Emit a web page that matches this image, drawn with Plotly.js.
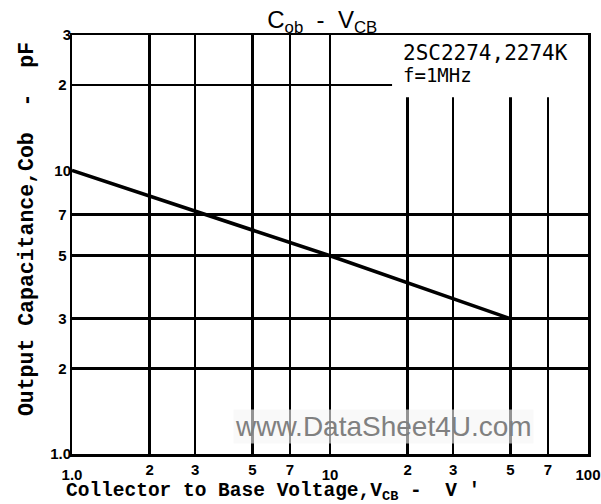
<!DOCTYPE html>
<html>
<head>
<meta charset="utf-8">
<script src="https://cdn.plot.ly/plotly-3.0.1.min.js"></script>
<style>html,body{margin:0;padding:0;background:#fff;}#chart{width:601px;height:504px;}</style>
</head>
<body>
<div id="chart"></div>
<script>
// Data (log-log)
const vcb = [1, 10, 50];          // Collector to base voltage, V
const cob = [10, 5.0, 3.0];       // Output capacitance, pF

// Axis ticks / labels
const xGridVals = [2, 3, 5, 7, 10, 20, 30, 50, 70];
const xGridText = ["2", "3", "5", "7", "", "2", "3", "5", "7"];
const xDecadeVals = [1, 10, 100];
const xDecadeText = ["1.0", "10", "100"];
const yGridVals = [2, 3, 5, 7, 20];
const yGridText = ["2", "3", "5", "7", "2"];
const yDecadeVals = [1, 10, 30];
const yDecadeText = ["1.0", "10", "3"];

const labelFont = {family: "Liberation Sans, Arial, sans-serif", size: 15, color: "#000", weight: 700};
const monoFont = {family: "Liberation Mono, Courier New, monospace", size: 19.5, color: "#000", weight: 700};

// the curve, on the gridded axes
const trace = {
  x: vcb, y: cob, type: "scatter", mode: "lines",
  line: {color: "#000", width: 3.6},
  xaxis: "x", yaxis: "y", hoverinfo: "skip", showlegend: false
};
// same data on the overlay axes that carry the decade labels (not drawn)
const traceDecadeAxes = {
  x: vcb, y: cob, type: "scatter", mode: "lines",
  line: {color: "rgba(0,0,0,0)", width: 0},
  xaxis: "x2", yaxis: "y2", hoverinfo: "skip", showlegend: false
};

const yRange = [0, Math.log10(30)];
const layout = {
  width: 601, height: 504,
  margin: {l: 72, r: 13, t: 35, b: 50},
  paper_bgcolor: "#fff", plot_bgcolor: "#fff",
  showlegend: false,
  title: {
    text: "C<sub>ob</sub>  -  V<sub>CB</sub>",
    font: {family: "Liberation Sans, Arial, sans-serif", size: 24, color: "#000"},
    x: 0.485, xanchor: "center", xref: "paper",
    y: 0.962, yanchor: "middle", yref: "container"
  },
  xaxis: {
    type: "log", range: [0, 2],
    tickmode: "array", tickvals: xGridVals, ticktext: xGridText,
    tickfont: labelFont, ticks: "",
    showgrid: true, gridcolor: "#000", gridwidth: 2.5,
    showline: true, linecolor: "#000", linewidth: 2.5, mirror: true,
    zeroline: false, fixedrange: true
  },
  xaxis2: {
    type: "log", range: [0, 2], overlaying: "x", anchor: "y2", side: "bottom",
    tickmode: "array", tickvals: xDecadeVals, ticktext: xDecadeText,
    tickfont: labelFont, ticks: "outside", ticklen: 7, tickcolor: "rgba(0,0,0,0)",
    ticklabeloverflow: "allow",
    showgrid: false, showline: false, zeroline: false, fixedrange: true
  },
  yaxis: {
    type: "log", range: yRange,
    tickmode: "array", tickvals: yGridVals, ticktext: yGridText,
    tickfont: labelFont, ticks: "",
    showgrid: true, gridcolor: "#000", gridwidth: 2.5,
    showline: true, linecolor: "#000", linewidth: 2.5, mirror: true,
    zeroline: false, fixedrange: true
  },
  yaxis2: {
    type: "log", range: yRange, overlaying: "y", anchor: "x2", side: "left",
    tickmode: "array", tickvals: yDecadeVals, ticktext: yDecadeText,
    tickfont: labelFont, ticks: "", ticklabeloverflow: "allow",
    showgrid: false, showline: false, zeroline: false, fixedrange: true
  },
  // white patch hiding the grid behind the part-number box (top right)
  shapes: [{
    type: "rect", layer: "between",
    xref: "x", yref: "y",
    x0: 17.4, x1: 100, y0: 18.1, y1: 30,
    fillcolor: "#fff", line: {width: 0}
  }],
  annotations: [
    {text: "Collector to Base Voltage,V<sub>CB</sub> -  V '", xref: "paper", yref: "paper",
     x: 0.39, y: -0.091, xanchor: "center", yanchor: "middle", showarrow: false, font: monoFont},
    {text: "Output Capacitance,Cob  -  pF", xref: "paper", yref: "paper", textangle: -90,
     x: -0.087, y: 0.537, xanchor: "center", yanchor: "middle", showarrow: false,
     font: Object.assign({}, monoFont, {size: 21.5})},
    {text: "2SC2274,2274K", xref: "paper", yref: "paper", x: 0.637, y: 0.957,
     xanchor: "left", yanchor: "middle", showarrow: false,
     font: {family: "DejaVu Sans Mono, monospace", size: 21, color: "#000"}},
    {text: "f=1MHz", xref: "paper", yref: "paper", x: 0.637, y: 0.905,
     xanchor: "left", yanchor: "middle", showarrow: false,
     font: {family: "DejaVu Sans Mono, monospace", size: 19, color: "#000"}},
    {text: "www.DataSheet4U.com", xref: "paper", yref: "paper", x: 0.604, y: 0.066,
     xanchor: "center", yanchor: "middle", showarrow: false,
     bgcolor: "rgba(245,245,245,0.6)",
     font: {family: "Liberation Sans, Arial, sans-serif", size: 28, color: "#808080"}}
  ]
};

Plotly.newPlot("chart", [trace, traceDecadeAxes], layout, {displayModeBar: false, staticPlot: true});
</script>
</body>
</html>
